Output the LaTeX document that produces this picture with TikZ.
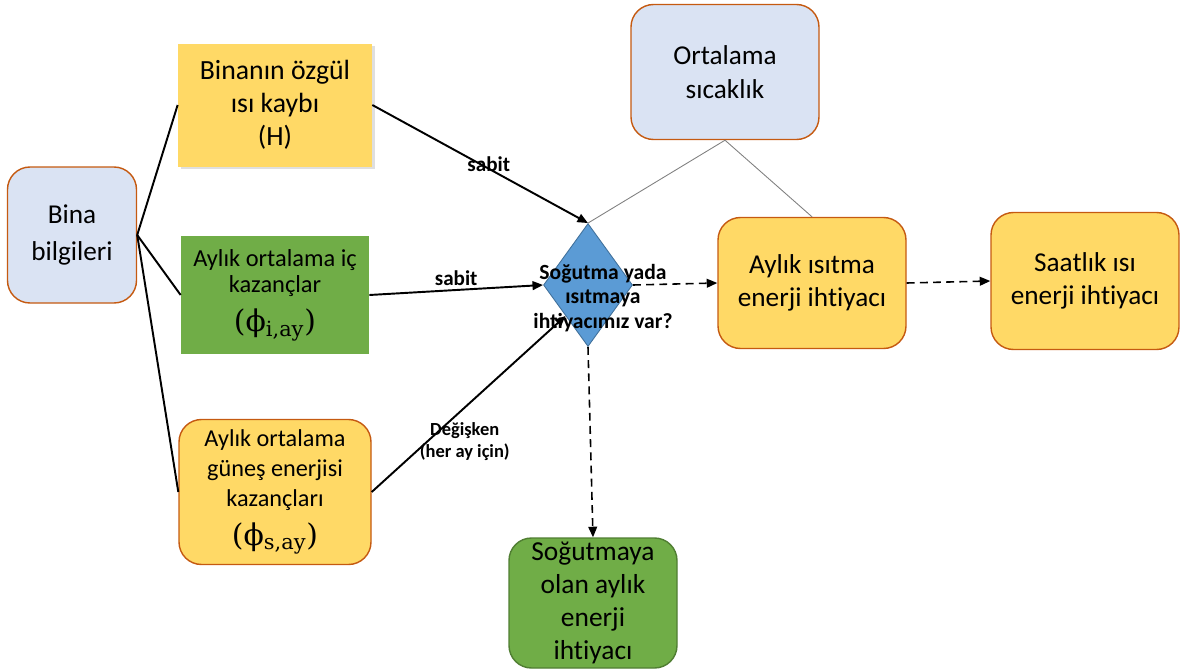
\documentclass[tikz,border=0pt]{standalone}
\usepackage{fontspec}
\setmainfont{Carlito}[Ligatures={NoCommon}]
\newfontfamily\phifont{DejaVu Serif}
\usetikzlibrary{shapes,arrows.meta,shadows}
\definecolor{acikmavi}{HTML}{DAE3F3}
\definecolor{turuncu}{HTML}{C55A11}
\definecolor{sari}{HTML}{FFD966}
\definecolor{yesil}{HTML}{70AD47}
\definecolor{koyuyesil}{HTML}{507E32}
\definecolor{mavi}{HTML}{5B9BD5}
\definecolor{koyumavi}{HTML}{41719C}

\begin{document}
\begin{tikzpicture}[
  kutu/.style={draw=turuncu, line width=0.8pt, rounded corners=0.45cm, align=center, inner sep=2pt, font=\fontsize{15.5}{19}\selectfont},
  duz/.style={align=center, inner sep=2pt},
  karar/.style={diamond, draw=koyumavi, line width=0.5pt, fill=mavi, minimum width=1.78cm, minimum height=2.46cm, inner sep=0pt},
  soru/.style={align=center, font=\bfseries\fontsize{12.3}{14}\selectfont},
  etiket/.style={align=center, inner sep=1pt, font=\bfseries\fontsize{12}{14}\selectfont},
  ok/.style={line width=1.1pt, -{Triangle[length=6pt,width=5pt]}},
  kesik/.style={line width=0.9pt, dash pattern=on 4.5pt off 3pt, -{Triangle[length=6pt,width=5pt]}},
  ince/.style={draw=gray, line width=0.5pt}]
  \useasboundingbox (0,0) rectangle (23.6,-13.42);

  % sol taraf
  \node[kutu, fill=acikmavi, minimum width=2.58cm, minimum height=2.72cm, font=\fontsize{15.5}{21}\selectfont] (bina) at (1.44,-4.70) {Bina\\bilgileri};
  \node[duz, fill=sari, drop shadow={opacity=0.25, shadow xshift=1.5pt, shadow yshift=-1.5pt}, minimum width=3.88cm, minimum height=2.46cm, font=\fontsize{15.8}{18.7}\selectfont] (ozgul) at (5.50,-2.10) {Binanın özgül\\ısı kaybı\\(H)};
  \node[duz, fill=yesil, minimum width=3.76cm, minimum height=2.36cm, font=\fontsize{13.9}{14.8}\selectfont] (ic) at (5.50,-5.90) {Aylık ortalama iç\\kazançlar\\[6pt]{\phifont\fontsize{17}{20}\selectfont(ϕ\textsubscript{i,ay})}};
  \node[kutu, fill=sari, minimum width=3.84cm, minimum height=2.90cm, font=\fontsize{13.8}{17}\selectfont] (gunes) at (5.50,-9.84) {Aylık ortalama\\güneş enerjisi\\kazançları\\[5pt]{\phifont\fontsize{17}{20}\selectfont(ϕ\textsubscript{s,ay})}};
  \foreach \k in {ozgul,ic,gunes}
    \draw[line width=1.1pt] (bina.east) -- (\k.west);

  % orta ve sag taraf
  \node[kutu, fill=acikmavi, minimum width=3.76cm, minimum height=2.70cm] (ortsic) at (14.50,-1.44) {Ortalama\\sıcaklık};
  \node[karar] (karar) at (11.76,-5.70) {};
  \node[soru] (sorumetni) at ([xshift=0.3cm,yshift=-0.26cm]karar.center) {Soğutma yada\\ısıtmaya\\ihtiyacımız var?};
  \node[kutu, fill=sari, minimum width=3.76cm, minimum height=2.62cm] (isitma) at (16.24,-5.66) {Aylık ısıtma\\enerji ihtiyacı};
  \node[kutu, fill=sari, minimum width=3.76cm, minimum height=2.74cm] (saatlik) at (21.70,-5.62) {Saatlık ısı\\enerji ihtiyacı};
  \node[kutu, draw=koyuyesil, fill=yesil, minimum width=3.36cm, minimum height=2.60cm, font=\fontsize{15.6}{18.7}\selectfont] (sogutma) at (11.86,-12.06) {Soğutmaya\\olan aylık\\enerji\\ihtiyacı};

  \draw[ok] (ozgul.east) -- node[etiket, pos=0.54, yshift=0.1cm] {sabit} (karar.north);
  \draw[ok] (ic.east) -- node[etiket, above=1pt] {sabit} (karar.west);
  \draw[ok] (gunes.east) -- node[etiket, pos=0.48, yshift=-0.68cm, font=\bfseries\fontsize{10.5}{12.5}\selectfont] {Değişken\\(her ay için)} (karar.south west);
  \draw[ince] (ortsic.south) -- (karar.north);
  \draw[ince] (ortsic.south) -- (isitma.north);
  \draw[kesik] (karar.east) -- (isitma.west);
  \draw[kesik] (isitma.east) -- (saatlik.west);
  \draw[kesik] (karar.south) -- (sogutma.north);
\end{tikzpicture}
\end{document}
